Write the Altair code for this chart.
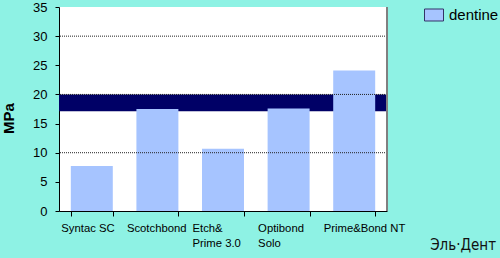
import altair as alt
import pandas as pd

categories = ["Syntac SC", "Scotchbond", "Etch&\nPrime 3.0", "Optibond\nSolo", "Prime&Bond NT"]
dentine = [7.7, 17.5, 10.7, 17.6, 24.1]
band_low = [17.1]
band_high = [20.0]
grid_values = [10, 20, 30]
y_ticks = [0, 5, 10, 15, 20, 25, 30, 35]
series_name = "dentine"
watermark = ["Эль·Дент"]

bars_df = pd.DataFrame({"cat": categories, "value": dentine, "series": [series_name] * len(categories)})
band_df = pd.DataFrame({"lo": band_low, "hi": band_high})
grid_df = pd.DataFrame({"v": grid_values})
wm_df = pd.DataFrame({"t": watermark})

W, H = 328, 204
TOP = 7
FONT = "Liberation Sans"

yscale = alt.Scale(domain=[0, 35], nice=False)
yaxis = alt.Axis(values=y_ticks, tickCount=8, grid=False, tickSize=4, tickColor="black",
                 domainColor="black", labelFontSize=13, labelColor="black",
                 labelFont=FONT, labelPadding=8, labelOverlap=False, labelBound=False,
                 title="MPa", titleFont=FONT, titleFontSize=15, titleFontWeight="bold",
                 titleColor="black", titleAngle=-90, titleX=-51, titleY=111,
                 titleAlign="center", titleBaseline="middle")

band = alt.Chart(band_df).mark_rect(color="#000066").encode(
    x=alt.value(0), x2=alt.value("width"),
    y=alt.Y("lo:Q", scale=yscale, axis=yaxis, title="MPa"),
    y2="hi:Q",
)

bars = alt.Chart(bars_df).mark_bar(color="#a6c4ff").encode(
    x=alt.X("cat:N", sort=categories,
            scale=alt.Scale(paddingInner=0.36, paddingOuter=0.18),
            axis=alt.Axis(title=None, labelAngle=0, labelAlign="left", labelBaseline="top",
                          labelOffset=-31, labelPadding=6, labelFontSize=11.3, labelFont=FONT,
                          labelLineHeight=15,
                          labelColor="black", tickBand="extent", tickSize=5, tickColor="black",
                          domainColor="black", labelOverlap=False, labelBound=False,
                          labelExpr="split(datum.label, '\\n')")),
    y=alt.Y("value:Q", scale=yscale, axis=yaxis, title="MPa"),
    fill=alt.Fill("series:N", scale=alt.Scale(range=["#a6c4ff"]),
                  legend=alt.Legend(title=None, orient="none", legendX=365, legendY=-2,
                                    padding=0, symbolType="M-1,-0.63L1,-0.63L1,0.63L-1,0.63Z",
                                    symbolSize=361, symbolStrokeColor="#333366",
                                    symbolStrokeWidth=1, symbolFillColor="#a6c4ff",
                                    labelFontSize=15, labelFont=FONT, labelColor="black",
                                    labelOffset=5)),
)

grid = alt.Chart(grid_df).mark_rule(color="#222222", strokeDash=[1, 1], strokeWidth=1).encode(
    y=alt.Y("v:Q", scale=yscale, axis=yaxis, title="MPa")
)

right_border = alt.Chart(grid_df).mark_rule(color="#808080", strokeWidth=2).encode(
    x=alt.value("width"), y=alt.value(0), y2=alt.value("height")
)

wm = alt.Chart(wm_df).mark_text(align="right", baseline="alphabetic", fontSize=15,
                                font="DejaVu Sans Condensed", color="#111111").encode(
    x=alt.value(437), y=alt.value(243), text="t:N"
)

chart = alt.layer(band, bars, grid, right_border, wm).properties(
    width=W, height=H,
    autosize=alt.AutoSizeParams(type="none"),
    padding={"left": 59, "top": TOP, "right": 500 - 59 - W, "bottom": 258 - TOP - H},
    background="#8ef2e4",
).configure_view(fill="white", stroke=None).configure_axis(labelFont=FONT)

chart.save("out.html", embed_options={"renderer": "svg", "actions": False})
